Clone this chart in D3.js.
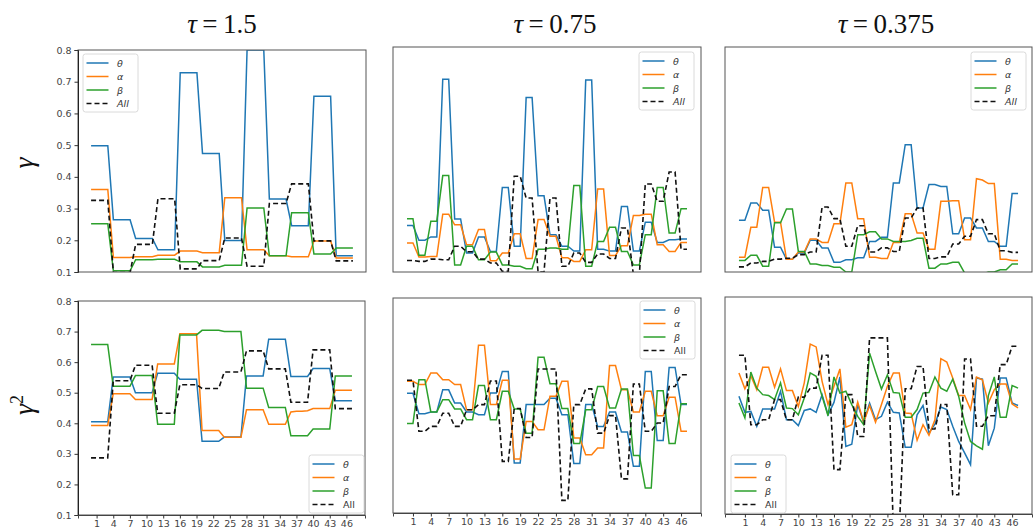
<!DOCTYPE html>
<html>
<head>
<meta charset="utf-8">
<script src="https://cdn.jsdelivr.net/npm/d3@7/dist/d3.min.js"></script>
<style>
  body { margin: 0; background: #fff; }
  svg text { font-family: "DejaVu Sans", sans-serif; }
</style>
</head>
<body>
<svg id="fig" width="1036" height="528"></svg>
<script>
// ---------------- data ----------------
const xTickLabels = [1, 4, 7, 10, 13, 16, 19, 22, 25, 28, 31, 34, 37, 40, 43, 46];
const yTickValues = [0.1, 0.2, 0.3, 0.4, 0.5, 0.6, 0.7, 0.8];
const seriesNames = ["θ", "α", "β", "All"];
const columnTitles = ["1.5", "0.75", "0.375"];

// gamma, tau = 1.5
const gammaT15Theta = [0.498,0.498,0.498,0.498,0.265,0.265,0.265,0.265,0.206,0.206,0.206,0.206,0.17,0.17,0.17,0.17,0.728,0.728,0.728,0.728,0.474,0.474,0.474,0.474,0.199,0.199,0.199,0.199,0.8,0.8,0.8,0.8,0.33,0.33,0.33,0.33,0.246,0.246,0.246,0.246,0.654,0.654,0.654,0.654,0.151,0.151,0.151,0.151];
const gammaT15Alpha = [0.36,0.36,0.36,0.36,0.146,0.146,0.146,0.146,0.148,0.148,0.148,0.148,0.153,0.153,0.153,0.153,0.166,0.166,0.166,0.166,0.161,0.161,0.161,0.161,0.334,0.334,0.334,0.334,0.17,0.17,0.17,0.17,0.151,0.151,0.151,0.151,0.148,0.148,0.148,0.148,0.198,0.198,0.198,0.198,0.144,0.144,0.144,0.144];
const gammaT15Beta = [0.252,0.252,0.252,0.252,0.104,0.104,0.104,0.104,0.139,0.139,0.139,0.139,0.14,0.14,0.14,0.14,0.132,0.132,0.132,0.132,0.116,0.116,0.116,0.116,0.121,0.121,0.121,0.121,0.302,0.302,0.302,0.302,0.151,0.151,0.151,0.151,0.287,0.287,0.287,0.287,0.157,0.157,0.157,0.157,0.176,0.176,0.176,0.176];
const gammaT15All = [0.326,0.326,0.326,0.326,0.098,0.098,0.098,0.098,0.187,0.187,0.187,0.187,0.331,0.331,0.331,0.331,0.11,0.11,0.11,0.11,0.136,0.136,0.136,0.136,0.207,0.207,0.207,0.207,0.118,0.118,0.118,0.118,0.316,0.316,0.316,0.316,0.378,0.378,0.378,0.378,0.198,0.198,0.198,0.198,0.135,0.135,0.135,0.135];

// gamma, tau = 0.75
const gammaT075Theta = [0.245,0.245,0.199,0.199,0.209,0.209,0.70,0.70,0.265,0.265,0.159,0.159,0.209,0.209,0.164,0.164,0.363,0.363,0.18,0.18,0.643,0.643,0.337,0.337,0.216,0.216,0.18,0.18,0.165,0.165,0.697,0.697,0.171,0.171,0.165,0.165,0.304,0.304,0.165,0.165,0.255,0.255,0.192,0.192,0.2,0.2,0.203,0.203];
const gammaT075Alpha = [0.19,0.19,0.147,0.147,0.148,0.148,0.28,0.28,0.247,0.247,0.185,0.185,0.232,0.232,0.135,0.135,0.159,0.159,0.219,0.219,0.142,0.142,0.263,0.263,0.211,0.211,0.144,0.144,0.133,0.133,0.169,0.169,0.358,0.358,0.151,0.151,0.182,0.182,0.276,0.276,0.28,0.28,0.185,0.185,0.164,0.164,0.192,0.192];
const gammaT075Beta = [0.266,0.266,0.152,0.152,0.258,0.258,0.4,0.4,0.122,0.122,0.18,0.18,0.138,0.138,0.162,0.162,0.122,0.122,0.118,0.118,0.11,0.11,0.171,0.171,0.175,0.175,0.171,0.171,0.369,0.369,0.118,0.118,0.195,0.195,0.239,0.239,0.164,0.164,0.122,0.122,0.216,0.216,0.363,0.363,0.221,0.221,0.297,0.297];
const gammaT075All = [0.136,0.136,0.133,0.133,0.14,0.14,0.138,0.138,0.18,0.18,0.163,0.163,0.14,0.14,0.128,0.128,0.102,0.102,0.398,0.398,0.33,0.33,0.1,0.1,0.33,0.33,0.118,0.118,0.159,0.159,0.13,0.13,0.156,0.156,0.142,0.142,0.237,0.237,0.092,0.092,0.374,0.374,0.32,0.32,0.411,0.411,0.171,0.171];

// gamma, tau = 0.375
const gammaT0375Theta = [0.261,0.261,0.315,0.315,0.292,0.292,0.177,0.177,0.14,0.14,0.159,0.159,0.199,0.199,0.175,0.175,0.13,0.13,0.138,0.138,0.144,0.144,0.195,0.195,0.208,0.208,0.377,0.377,0.496,0.496,0.299,0.299,0.372,0.372,0.366,0.366,0.219,0.219,0.268,0.268,0.237,0.237,0.195,0.195,0.18,0.18,0.344,0.344];
const gammaT0375Alpha = [0.146,0.146,0.239,0.239,0.363,0.363,0.255,0.255,0.14,0.14,0.162,0.162,0.203,0.203,0.192,0.192,0.25,0.25,0.377,0.377,0.266,0.266,0.146,0.146,0.142,0.142,0.192,0.192,0.281,0.281,0.221,0.221,0.171,0.171,0.32,0.32,0.322,0.322,0.2,0.2,0.39,0.386,0.375,0.375,0.14,0.14,0.136,0.136];
const gammaT0375Beta = [0.136,0.136,0.152,0.152,0.118,0.118,0.253,0.253,0.296,0.296,0.164,0.164,0.125,0.125,0.12,0.12,0.115,0.115,0.1,0.1,0.216,0.216,0.225,0.225,0.203,0.203,0.195,0.195,0.195,0.198,0.205,0.205,0.112,0.112,0.125,0.125,0.13,0.13,0.097,0.097,0.093,0.093,0.1,0.1,0.107,0.107,0.125,0.125];
const gammaT0375All = [0.116,0.116,0.128,0.128,0.133,0.133,0.14,0.14,0.143,0.143,0.154,0.154,0.162,0.162,0.302,0.302,0.266,0.266,0.18,0.18,0.244,0.244,0.162,0.162,0.175,0.175,0.164,0.164,0.268,0.268,0.299,0.299,0.142,0.142,0.147,0.147,0.187,0.187,0.211,0.211,0.263,0.263,0.219,0.219,0.166,0.166,0.161,0.161];

// gamma squared, tau = 1.5
const gamma2T15Theta = [0.405,0.405,0.405,0.405,0.551,0.551,0.551,0.551,0.5,0.5,0.5,0.5,0.564,0.564,0.564,0.564,0.544,0.544,0.544,0.544,0.341,0.341,0.341,0.341,0.355,0.355,0.355,0.355,0.555,0.555,0.555,0.555,0.675,0.675,0.675,0.675,0.553,0.553,0.553,0.553,0.579,0.579,0.579,0.579,0.474,0.474,0.474,0.474];
const gamma2T15Alpha = [0.393,0.393,0.393,0.393,0.497,0.497,0.497,0.497,0.478,0.478,0.478,0.478,0.594,0.594,0.594,0.594,0.693,0.693,0.693,0.693,0.376,0.376,0.376,0.376,0.354,0.354,0.354,0.354,0.444,0.444,0.444,0.444,0.397,0.397,0.397,0.397,0.437,0.439,0.439,0.441,0.448,0.448,0.448,0.448,0.508,0.508,0.508,0.508];
const gamma2T15Beta = [0.658,0.658,0.658,0.658,0.521,0.521,0.521,0.521,0.556,0.556,0.556,0.556,0.397,0.397,0.397,0.397,0.689,0.689,0.689,0.689,0.704,0.704,0.704,0.704,0.7,0.7,0.7,0.7,0.515,0.515,0.515,0.515,0.452,0.452,0.452,0.452,0.359,0.359,0.359,0.359,0.381,0.381,0.381,0.381,0.555,0.555,0.555,0.555];
const gamma2T15All = [0.287,0.287,0.287,0.287,0.539,0.539,0.539,0.539,0.59,0.59,0.59,0.59,0.433,0.433,0.433,0.433,0.526,0.526,0.526,0.526,0.514,0.514,0.514,0.514,0.568,0.568,0.568,0.568,0.637,0.637,0.637,0.637,0.578,0.578,0.578,0.578,0.469,0.469,0.469,0.469,0.64,0.64,0.64,0.64,0.448,0.448,0.448,0.448];

// gamma squared, tau = 0.75
const gamma2T075Theta = [0.49,0.49,0.423,0.423,0.429,0.429,0.501,0.501,0.458,0.458,0.429,0.429,0.42,0.42,0.491,0.491,0.561,0.561,0.263,0.263,0.453,0.453,0.453,0.453,0.474,0.474,0.42,0.42,0.261,0.261,0.453,0.453,0.382,0.382,0.429,0.429,0.364,0.364,0.252,0.252,0.561,0.561,0.336,0.336,0.574,0.574,0.453,0.453];
const gamma2T075Alpha = [0.529,0.529,0.518,0.518,0.556,0.556,0.534,0.534,0.518,0.518,0.436,0.436,0.646,0.646,0.453,0.453,0.532,0.532,0.276,0.276,0.398,0.398,0.371,0.371,0.48,0.48,0.529,0.529,0.344,0.344,0.29,0.29,0.312,0.312,0.58,0.58,0.501,0.501,0.429,0.429,0.496,0.496,0.417,0.417,0.477,0.477,0.366,0.366];
const gamma2T075Beta = [0.391,0.391,0.534,0.534,0.429,0.429,0.469,0.469,0.439,0.439,0.404,0.404,0.515,0.515,0.404,0.404,0.496,0.496,0.439,0.439,0.36,0.36,0.607,0.607,0.521,0.521,0.44,0.44,0.326,0.326,0.436,0.436,0.512,0.512,0.442,0.442,0.504,0.504,0.287,0.287,0.181,0.181,0.498,0.498,0.326,0.326,0.456,0.456];
const gamma2T075All = [0.532,0.532,0.366,0.366,0.382,0.382,0.425,0.425,0.382,0.382,0.436,0.436,0.453,0.453,0.53,0.53,0.268,0.268,0.44,0.44,0.346,0.346,0.569,0.569,0.569,0.569,0.141,0.141,0.453,0.453,0.504,0.504,0.36,0.36,0.417,0.417,0.211,0.211,0.52,0.52,0.366,0.366,0.393,0.393,0.512,0.512,0.55,0.55];

// gamma squared, tau = 0.375
const gamma2T0375Theta = [0.48,0.428,0.431,0.383,0.439,0.439,0.439,0.496,0.404,0.404,0.385,0.434,0.439,0.428,0.485,0.42,0.46,0.542,0.318,0.325,0.453,0.396,0.458,0.404,0.415,0.461,0.428,0.426,0.315,0.315,0.42,0.45,0.361,0.39,0.445,0.437,0.383,0.334,0.297,0.259,0.539,0.535,0.32,0.377,0.539,0.539,0.458,0.45];
const gamma2T0375Alpha = [0.555,0.504,0.546,0.501,0.573,0.573,0.509,0.568,0.498,0.498,0.447,0.523,0.648,0.639,0.528,0.453,0.512,0.568,0.38,0.388,0.461,0.396,0.45,0.396,0.453,0.512,0.555,0.555,0.426,0.424,0.338,0.388,0.354,0.404,0.601,0.59,0.539,0.482,0.482,0.437,0.542,0.533,0.458,0.501,0.519,0.519,0.455,0.442];
const gamma2T0375Beta = [0.458,0.41,0.558,0.506,0.485,0.482,0.469,0.523,0.442,0.44,0.42,0.474,0.555,0.544,0.48,0.417,0.542,0.49,0.496,0.453,0.415,0.388,0.619,0.56,0.503,0.549,0.492,0.49,0.412,0.412,0.437,0.49,0.492,0.542,0.506,0.496,0.535,0.48,0.394,0.334,0.32,0.309,0.482,0.542,0.412,0.412,0.514,0.506];
const gamma2T0375All = [0.612,0.612,0.388,0.388,0.404,0.404,0.469,0.469,0.404,0.404,0.477,0.477,0.506,0.506,0.612,0.612,0.243,0.243,0.485,0.485,0.35,0.35,0.668,0.668,0.668,0.668,0.05,0.05,0.504,0.504,0.576,0.576,0.374,0.374,0.453,0.453,0.162,0.162,0.6,0.6,0.383,0.383,0.417,0.417,0.582,0.582,0.641,0.641];

// ---------------- layout ----------------
const colors = ["#1f77b4", "#ff7f0e", "#2ca02c", "#111111"];
const steps = d3.range(gammaT15Theta.length);

const panels = [
  { box: [78, 50, 366, 272],  data: [gammaT15Theta, gammaT15Alpha, gammaT15Beta, gammaT15All],
    yAxis: true,  xAxis: false, legend: [83, 54],   italicAll: true },
  { box: [393, 47, 701, 272], data: [gammaT075Theta, gammaT075Alpha, gammaT075Beta, gammaT075All],
    yAxis: false, xAxis: false, legend: [639, 52],  italicAll: true },
  { box: [725, 47, 1032, 272], data: [gammaT0375Theta, gammaT0375Alpha, gammaT0375Beta, gammaT0375All],
    yAxis: false, xAxis: false, legend: [971, 52],  italicAll: true },
  { box: [78, 301, 365, 515], data: [gamma2T15Theta, gamma2T15Alpha, gamma2T15Beta, gamma2T15All],
    yAxis: true,  xAxis: true,  legend: [309, 455], italicAll: false },
  { box: [393, 298, 701, 513], data: [gamma2T075Theta, gamma2T075Alpha, gamma2T075Beta, gamma2T075All],
    yAxis: false, xAxis: true,  legend: [640, 301], italicAll: false },
  { box: [725, 297, 1032, 514], data: [gamma2T0375Theta, gamma2T0375Alpha, gamma2T0375Beta, gamma2T0375All],
    yAxis: false, xAxis: true,  legend: [731, 455], italicAll: false }
];

const svg = d3.select("#fig");

// column titles
const titleX = [222, 555, 886];
columnTitles.forEach((t, i) => {
  const txt = svg.append("text")
    .attr("x", titleX[i]).attr("y", 33)
    .attr("text-anchor", "middle")
    .style("font-family", "'Liberation Serif', 'DejaVu Serif', serif")
    .style("font-size", "27px")
    .attr("fill", "#111");
  txt.append("tspan").style("font-style", "italic").text("τ");
  txt.append("tspan").text("\u2009=\u2009" + t);
});

// row labels
const rowLabel = (y, sup) => {
  const g = svg.append("text")
    .attr("transform", `translate(33,${y}) rotate(-90)`)
    .attr("text-anchor", "middle")
    .style("font-family", "'Liberation Serif', 'DejaVu Serif', serif")
    .style("font-size", "28px")
    .attr("fill", "#111");
  g.append("tspan").style("font-style", "italic").text("γ");
  if (sup) g.append("tspan").attr("dy", -10).style("font-size", "18px").text("2");
};
rowLabel(163, false);
rowLabel(405, true);

panels.forEach((p, pi) => {
  const [x0, y0, x1, y1] = p.box;
  const n = steps.length - 1;
  const pad = n * 0.05;
  const x = d3.scaleLinear().domain([-pad, n + pad]).range([x0, x1]);
  const y = d3.scaleLinear().domain([0.1, 0.8]).range([y1, y0]);

  const clipId = "clip" + pi;
  svg.append("clipPath").attr("id", clipId)
    .append("rect").attr("x", x0).attr("y", y0).attr("width", x1 - x0).attr("height", y1 - y0);

  const g = svg.append("g");

  const line = d3.line().x((d, i) => x(steps[i])).y(d => y(d));
  const lines = g.append("g").attr("clip-path", `url(#${clipId})`);
  p.data.forEach((vals, si) => {
    lines.append("path")
      .datum(vals)
      .attr("d", line)
      .attr("fill", "none")
      .attr("stroke", colors[si])
      .attr("stroke-width", si === 3 ? 1.6 : 1.5)
      .attr("stroke-dasharray", si === 3 ? "5,3" : null)
      .attr("stroke-linejoin", "miter");
  });

  // frame
  g.append("rect").attr("x", x0).attr("y", y0).attr("width", x1 - x0).attr("height", y1 - y0)
    .attr("fill", "none").attr("stroke", "#555").attr("stroke-width", 1);

  if (p.yAxis) {
    const ya = g.append("g").attr("transform", `translate(${x0},0)`)
      .call(d3.axisLeft(y).tickValues(yTickValues).tickFormat(d3.format(".1f")).tickSize(3.5).tickPadding(3));
    ya.select(".domain").attr("stroke", "#222");
    ya.selectAll(".tick line").attr("stroke", "#333");
    ya.selectAll("text").style("font-size", "9.5px").attr("fill", "#444")
      .style("font-family", "'DejaVu Sans', sans-serif");
  }
  if (p.xAxis) {
    const xa = g.append("g").attr("transform", `translate(0,${y1})`)
      .call(d3.axisBottom(x).tickValues(xTickLabels).tickFormat(d3.format("d")).tickSize(3.5).tickPadding(2));
    xa.select(".domain").attr("stroke", "#444");
    xa.selectAll(".tick line").attr("stroke", "#333");
    xa.selectAll("text").style("font-size", "9.5px").attr("fill", "#444")
      .style("font-family", "'DejaVu Sans', sans-serif");
  }

  // legend
  const [lx, ly] = p.legend;
  const lg = g.append("g").attr("transform", `translate(${lx},${ly})`);
  lg.append("rect").attr("width", 55).attr("height", 58).attr("rx", 2.5)
    .attr("fill", "#fff").attr("fill-opacity", 0.85).attr("stroke", "#d0d0d0").attr("stroke-width", 0.8);
  const rowY = [9, 22.5, 36, 49.5];
  seriesNames.forEach((name, si) => {
    lg.append("line").attr("x1", 3.5).attr("x2", 25.5).attr("y1", rowY[si]).attr("y2", rowY[si])
      .attr("stroke", colors[si]).attr("stroke-width", si === 3 ? 1.6 : 1.5)
      .attr("stroke-dasharray", si === 3 ? "5,3" : null);
    const italic = si < 3 || p.italicAll;
    lg.append("text").attr("x", 34).attr("y", rowY[si] + 3.5)
      .style("font-size", "9.5px")
      .style("font-style", italic ? "italic" : "normal")
      .attr("fill", "#333")
      .text(name);
  });
});
</script>
</body>
</html>
